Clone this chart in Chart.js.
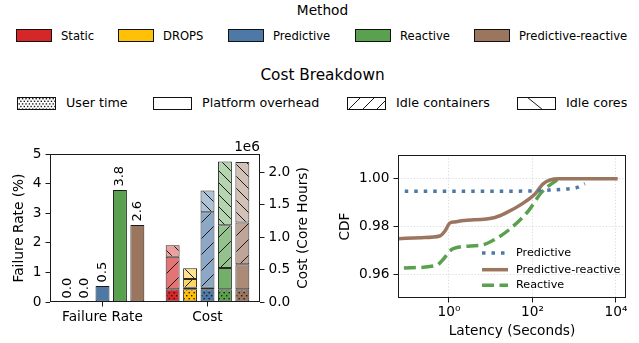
<!DOCTYPE html>
<html>
<head>
<meta charset="utf-8">
<script src="https://cdn.jsdelivr.net/npm/chart.js@4.4.1/dist/chart.umd.min.js"></script>
<style>
  body { margin: 0; width: 639px; height: 343px; background: #fff; position: relative; overflow: hidden; font-family: "DejaVu Sans", sans-serif; color: #000; }
  .ttl { position: absolute; left: 0; width: 645px; text-align: center; white-space: nowrap; }
  .lbl { position: absolute; white-space: nowrap; line-height: 16px; }
  .sw { position: absolute; }
  canvas.chart { position: absolute; top: 120px; }
</style>
</head>
<body>
<div id="legend"></div>
<canvas id="barChart" class="chart" style="left:0" width="320" height="223"></canvas>
<canvas id="cdfChart" class="chart" style="left:320px" width="319" height="223"></canvas>
<script>
// ---- data ----
const methods = ["Static", "DROPS", "Predictive", "Reactive", "Predictive-reactive"];
const methodColors = ["#d62728", "#ffc107", "#4e79a7", "#59a14f", "#9c755f"];
const groupLabels = ["Failure Rate", "Cost"];
const failureRate = [0.0, 0.0, 0.54, 3.78, 2.6];

const costParts = ["User time", "Platform overhead", "Idle containers", "Idle cores"];
const userTime = [0.198e6, 0.198e6, 0.198e6, 0.198e6, 0.198e6];
const platformOverhead = [0, 0.02e6, 0.02e6, 0.327e6, 0.384e6];
const idleContainers = [0.5e6, 0.135e6, 1.164e6, 0.658e6, 0.642e6];
const idleCores = [0.177e6, 0.167e6, 0.336e6, 0.982e6, 0.932e6];

const failTicks = [0, 1, 2, 3, 4, 5];
const costTicks = [0, 0.5e6, 1.0e6, 1.5e6, 2.0e6];

const cdfSeries = ["Predictive", "Predictive-reactive", "Reactive"];
const predLatency = [0.087, 1, 10, 100, 200, 350, 600, 1100, 1800];
const predCdf = [0.9948, 0.9948, 0.9948, 0.9949, 0.9952, 0.9954, 0.9957, 0.9962, 0.9980];
const prLatency = [0.06, 0.22, 0.6, 0.8, 1.04, 1.37, 2, 12.6, 22, 55, 115, 180, 420, 11000];
const prCdf = [0.9749, 0.9753, 0.9760, 0.9781, 0.9814, 0.9819, 0.9824, 0.9838, 0.9855, 0.9894, 0.9936, 0.9979, 1.0, 1.0];
const reLatency = [0.083, 0.5, 0.66, 1.26, 6, 12.6, 32, 80, 166, 420];
const reCdf = [0.9626, 0.9637, 0.9654, 0.9707, 0.9722, 0.9746, 0.9796, 0.9866, 0.9944, 1.0];
const cdfColors = ["#4e79a7", "#9c755f", "#59a14f"];
const latencyTicks = [1, 100, 10000];
const cdfTicks = [0.96, 0.98, 1.00];

// ---- styling helpers ----
const partHatch = ["dots", "none", "fwd", "back"];
const partAlpha = [1, 0.85, 0.65, 0.45];
const FONT = "DejaVu Sans";
Chart.defaults.font.family = FONT;
Chart.defaults.font.size = 13.7;
Chart.defaults.color = "#000";

function tint(hex, a) {
  const n = parseInt(hex.slice(1), 16);
  const mix = (c) => Math.round(c * a + 255 * (1 - a));
  return `rgb(${mix(n >> 16)},${mix((n >> 8) & 255)},${mix(n & 255)})`;
}

function drawHatch(g, kind, w, h, step, dense) {
  g.strokeStyle = "#1a1a1a";
  g.fillStyle = "#1a1a1a";
  g.lineWidth = 1;
  if (kind === "dots") {
    const dy = dense ? 2.6 : 3, dx = dense ? 3.4 : 5;
    let row = 0;
    for (let y = 1; y < h - 1; y += dy, row++) {
      const off = (row % 2) ? dx / 2 : 0;
      for (let x = 1.5 + off; x < w - 1; x += dx) g.fillRect(x, y, 1.4, 1.4);
    }
  } else if (kind === "fwd") {
    g.beginPath();
    for (let k = -h; k < w + h; k += step) { g.moveTo(k, h); g.lineTo(k + h, 0); }
    g.stroke();
  } else if (kind === "back") {
    g.beginPath();
    for (let k = -h; k < w + h; k += step) { g.moveTo(k, 0); g.lineTo(k + h, h); }
    g.stroke();
  }
}

function makePattern(kind, fill) {
  if (kind === "none") return fill;
  const size = kind === "dots" ? 30 : (kind === "fwd" ? 16 : 12);
  const c = document.createElement("canvas");
  c.width = size; c.height = size;
  const g = c.getContext("2d");
  g.fillStyle = fill;
  g.fillRect(0, 0, size, size);
  if (kind === "dots") {
    g.fillStyle = "#1a1a1a";
    for (let y = 1, row = 0; y < size; y += 3, row++) {
      const off = (row % 2) ? 2.5 : 0;
      for (let x = 1 + off; x < size; x += 5) g.fillRect(x, y, 1.4, 1.4);
    }
  } else {
    drawHatch(g, kind, size, size, size);
  }
  return g.createPattern(c, "repeat");
}

// ---- figure legends (html) ----
const legend = document.getElementById("legend");
function addText(cls, text, css) {
  const d = document.createElement("div");
  d.className = cls;
  d.textContent = text;
  Object.assign(d.style, css);
  legend.appendChild(d);
}
function addSwatch(left, top, w, h, paint) {
  const c = document.createElement("canvas");
  c.className = "sw";
  c.width = w; c.height = h;
  c.style.left = left + "px"; c.style.top = top + "px";
  const g = c.getContext("2d");
  paint(g, w, h);
  g.strokeStyle = "#111"; g.lineWidth = 1;
  g.strokeRect(0.5, 0.5, w - 1, h - 1);
  legend.appendChild(c);
}

addText("ttl", "Method", { top: "2px", fontSize: "13.7px" });
const methodBoxLeft = [16, 118, 228, 355, 474];
methods.forEach((m, i) => {
  addSwatch(methodBoxLeft[i], 29, 36, 13, (g, w, h) => { g.fillStyle = methodColors[i]; g.fillRect(0, 0, w, h); });
  addText("lbl", m, { left: (methodBoxLeft[i] + 45) + "px", top: "27.5px", fontSize: "11.6px" });
});

addText("ttl", "Cost Breakdown", { top: "66px", fontSize: "15.3px" });
const partBoxLeft = [17, 153, 347, 517];
costParts.forEach((p, k) => {
  addSwatch(partBoxLeft[k], 97, 39, 13, (g, w, h) => {
    g.fillStyle = "#fff"; g.fillRect(0, 0, w, h);
    if (partHatch[k] === "dots") drawHatch(g, "dots", w, h, 0, true);
    if (partHatch[k] === "fwd") drawHatch(g, "fwd", w, h, 14);
    if (partHatch[k] === "back") {
      g.strokeStyle = "#1a1a1a"; g.lineWidth = 1;
      g.beginPath(); g.moveTo(10, 0); g.lineTo(26, h); g.stroke();
    }
  });
  addText("lbl", p, { left: (partBoxLeft[k] + 49) + "px", top: "95px", fontSize: "12.7px" });
});

// ---- plugins ----
const framePlugin = {
  id: "frame",
  afterDraw(chart) {
    const a = chart.chartArea, c = chart.ctx;
    c.save();
    c.strokeStyle = "#1a1a1a"; c.lineWidth = 1;
    c.strokeRect(Math.round(a.left) + 0.5, Math.round(a.top) + 0.5,
      Math.round(a.right - a.left) - 1, Math.round(a.bottom - a.top) - 1);
    c.restore();
  }
};

const barTextPlugin = {
  id: "barText",
  afterDatasetsDraw(chart) {
    const c = chart.ctx;
    c.save();
    c.fillStyle = "#000";
    c.font = "13px " + FONT;
    methods.forEach((m, i) => {
      const el = chart.getDatasetMeta(i).data[0];
      c.save();
      c.translate(el.x, el.y - 3.5);
      c.rotate(-Math.PI / 2);
      c.textAlign = "left"; c.textBaseline = "middle";
      c.fillText(failureRate[i].toFixed(1), 0, 0);
      c.restore();
    });
    const a = chart.chartArea;
    c.font = "13.7px " + FONT;
    c.textAlign = "right"; c.textBaseline = "middle";
    c.fillText("1e6", a.right, a.top - 7);
    c.save();
    c.translate(a.right + 43, (a.top + a.bottom) / 2);
    c.rotate(-Math.PI / 2);
    c.textAlign = "center";
    c.fillText("Cost (Core Hours)", 0, 0);
    c.restore();
    c.restore();
  }
};

const cdfLegendPlugin = {
  id: "cdfLegend",
  afterDraw(chart) {
    const c = chart.ctx, a = chart.chartArea;
    c.save();
    c.font = "11.2px " + FONT;
    c.textBaseline = "middle";
    c.fillStyle = "#000";
    const rows = [a.bottom - 45, a.bottom - 28.3, a.bottom - 12.7];
    chart.data.datasets.forEach((ds, i) => {
      c.strokeStyle = ds.borderColor;
      c.lineWidth = ds.borderWidth;
      c.lineCap = "butt";
      c.setLineDash(ds.borderDash || []);
      c.beginPath();
      c.moveTo(a.right - 144, rows[i]);
      c.lineTo(a.right - 118, rows[i]);
      c.stroke();
      c.setLineDash([]);
      c.fillText(ds.label, a.right - 110, rows[i]);
    });
    c.restore();
  }
};

// ---- bar chart ----
const barDatasets = [];
methods.forEach((m, i) => {
  barDatasets.push({
    label: m, data: [failureRate[i], null], yAxisID: "y", stack: m,
    backgroundColor: methodColors[i], borderColor: "#1a1a1a", borderWidth: 1, borderSkipped: false
  });
});
const costValues = [userTime, platformOverhead, idleContainers, idleCores];
methods.forEach((m, i) => {
  costValues.forEach((vals, k) => {
    barDatasets.push({
      label: m + " " + costParts[k], data: [null, vals[i]], yAxisID: "y2", stack: m,
      backgroundColor: makePattern(partHatch[k], tint(methodColors[i], partAlpha[k])),
      borderColor: "#2a2a2a", borderWidth: 1, borderSkipped: false
    });
  });
});

const tickGrid = { drawOnChartArea: false, tickLength: 4.5, tickColor: "#1a1a1a", tickWidth: 1 };

new Chart(document.getElementById("barChart"), {
  type: "bar",
  data: { labels: groupLabels, datasets: barDatasets },
  options: {
    responsive: false, animation: false, devicePixelRatio: 1,
    layout: { padding: { top: 34, right: 0, left: 0, bottom: 0 } },
    plugins: { legend: { display: false }, tooltip: { enabled: false } },
    datasets: { bar: { categoryPercentage: 0.83, barPercentage: 0.8 } },
    scales: {
      x: {
        type: "category", offset: true,
        grid: Object.assign({ offset: false }, tickGrid), border: { display: false },
        ticks: { padding: 3 },
        afterFit: (s) => { s.height = 41; }
      },
      y: {
        position: "left", min: 0, max: 5, stacked: true,
        afterBuildTicks: (s) => { s.ticks = failTicks.map((v) => ({ value: v })); },
        ticks: { padding: 4, callback: (v) => String(v) },
        grid: tickGrid, border: { display: false },
        title: { display: true, text: "Failure Rate (%)", padding: { top: 11, bottom: 0 } },
        afterFit: (s) => { s.width = 50; }
      },
      y2: {
        position: "right", min: 0, max: 2.28e6, stacked: true,
        afterBuildTicks: (s) => { s.ticks = costTicks.map((v) => ({ value: v })); },
        ticks: { padding: 4, callback: (v) => (v / 1e6).toFixed(1) },
        grid: tickGrid, border: { display: false },
        afterFit: (s) => { s.width = 60; }
      }
    }
  },
  plugins: [framePlugin, barTextPlugin]
});

// ---- CDF chart ----
const toPoints = (xs, ys) => xs.map((x, i) => ({ x: x, y: ys[i] }));
const supMap = { "0": "\u2070", "1": "\u00b9", "2": "\u00b2", "3": "\u00b3", "4": "\u2074", "-": "\u207b" };
const sup = (n) => String(n).split("").map((ch) => supMap[ch] || ch).join("");
const cdfData = [toPoints(predLatency, predCdf), toPoints(prLatency, prCdf), toPoints(reLatency, reCdf)];
const cdfDash = [[3.5, 6], [], [12, 5.5]];

new Chart(document.getElementById("cdfChart"), {
  type: "line",
  data: {
    datasets: cdfSeries.map((name, i) => ({
      label: name, data: cdfData[i], borderColor: cdfColors[i], borderWidth: 3.5,
      borderDash: cdfDash[i], borderCapStyle: "butt", pointRadius: 0,
      cubicInterpolationMode: "monotone", fill: false
    }))
  },
  options: {
    responsive: false, animation: false, devicePixelRatio: 1,
    layout: { padding: { top: 35, right: 13, left: 0, bottom: 0 } },
    plugins: { legend: { display: false }, tooltip: { enabled: false } },
    scales: {
      x: {
        type: "logarithmic", min: 0.06, max: 17400,
        afterBuildTicks: (s) => { s.ticks = latencyTicks.map((v) => ({ value: v })); },
        ticks: { padding: 2, callback: (v) => "10" + sup(Math.round(Math.log10(v))) },
        grid: { color: "#cfcfcf", lineWidth: 0.8, tickLength: 4.5, tickColor: "#1a1a1a", tickWidth: 1 },
        border: { display: false, dash: [1.2, 2] },
        title: { display: true, text: "Latency (Seconds)", padding: { top: 0, bottom: 3 } },
        afterFit: (s) => { s.height = 45; }
      },
      y: {
        min: 0.95, max: 1.01,
        afterBuildTicks: (s) => { s.ticks = cdfTicks.map((v) => ({ value: v })); },
        ticks: { padding: 4, callback: (v) => v.toFixed(2) },
        grid: { color: "#cfcfcf", lineWidth: 0.8, tickLength: 4.5, tickColor: "#1a1a1a", tickWidth: 1 },
        border: { display: false, dash: [1.2, 2] },
        title: { display: true, text: "CDF", padding: { top: 17, bottom: 0 } },
        afterFit: (s) => { s.width = 78; }
      }
    }
  },
  plugins: [framePlugin, cdfLegendPlugin]
});
</script>
</body>
</html>
